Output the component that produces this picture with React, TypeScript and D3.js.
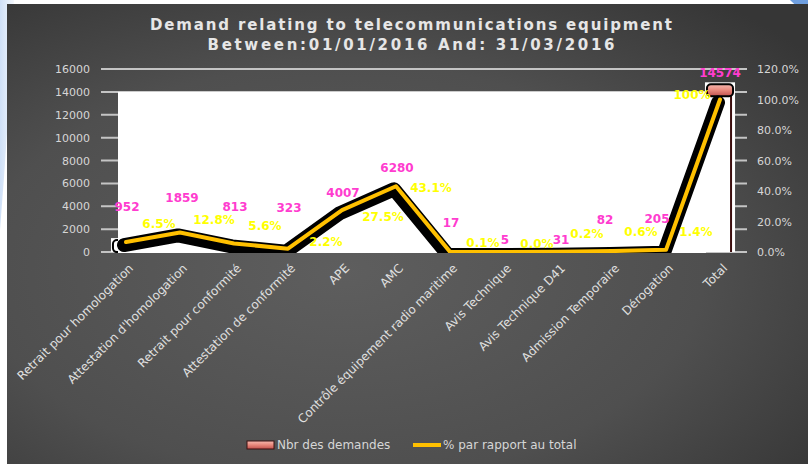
import * as d3 from "d3";

// données du graphique
const categories = [
  "Retrait pour homologation",
  "Attestation d'homologation",
  "Retrait pour conformité",
  "Attestation de conformité",
  "APE",
  "AMC",
  "Contrôle équipement radio maritime",
  "Avis Technique",
  "Avis Technique D41",
  "Admission Temporaire",
  "Dérogation",
  "Total",
];
const demandes = [952, 1859, 813, 323, 4007, 6280, 17, 5, 31, 82, 205, 14574];
const pourcentages = [6.5, 12.8, 5.6, 2.2, 27.5, 43.1, 0.1, 0.0, 0.2, 0.6, 1.4, 100];
const leftTicks = [0, 2000, 4000, 6000, 8000, 10000, 12000, 14000, 16000];
const rightTicks = [0, 20, 40, 60, 80, 100, 120];

// décalages des étiquettes (placées à la main dans l'original)
const countLabelShift = [[1, -34], [2, -33], [1, -36], [1, -40], [1, -13], [1, -12], [1, -29], [1, -12], [3, -12], [-7, -31], [-9, -31], [0, -12]];
const pctLabelShift = [[33, -18], [34, -12], [31, -17], [38, -7], [41, 7], [35, 2], [33, -9], [33, -8], [29, -18], [29, -19], [30, -18], [-28, -5]];

const W = 808;
const H = 464;
const font = "'DejaVu Sans', Verdana, sans-serif";

export default function App() {
  const x = d3.scaleBand<string>().domain(categories).range([99, 747]);
  const yL = d3.scaleLinear().domain([0, 16000]).range([252, 69]);
  const yR = d3.scaleLinear().domain([0, 120]).range([252, 69]);
  const cx = (c: string) => (x(c) ?? 0) + x.bandwidth() / 2;
  const barW = x.bandwidth() * 0.52;

  const line = d3
    .line<number>()
    .x((_, i) => cx(categories[i]))
    .y((d) => yR(d));

  const plotLeft = (x(categories[0]) ?? 0) + 19;
  const plotRight = cx("Total") - barW / 2;
  const plotTop = yL(14000);

  return (
    <svg width={W} height={H} style={{ position: "absolute", left: 0, top: 0 }}>
      <defs>
        <radialGradient id="bg" cx="42%" cy="58%" r="75%">
          <stop offset="0%" stopColor="#5e5e5e" />
          <stop offset="60%" stopColor="#4f4f4f" />
          <stop offset="100%" stopColor="#363636" />
        </radialGradient>
        <linearGradient id="cap" x1="0" y1="0" x2="0" y2="1">
          <stop offset="0%" stopColor="#f7b9b0" />
          <stop offset="50%" stopColor="#e8877b" />
          <stop offset="100%" stopColor="#c0504d" />
        </linearGradient>
        <linearGradient id="page" x1="0" y1="0" x2="1" y2="0">
          <stop offset="0%" stopColor="#cfe0f7" />
          <stop offset="100%" stopColor="#f4f8fd" />
        </linearGradient>
        <clipPath id="plotClip">
          <rect x={99} y={55} width={648} height={198} />
        </clipPath>
      </defs>

      <rect width={W} height={H} fill="#ffffff" />
      <path d="M0,0 L14,0 Q9,120 0,230 Z" fill="url(#page)" />
      <path d="M790,0 L808,0 L808,16 Q798,8 790,0 Z" fill="#6f9fe0" />
      <rect x={7} y={4} width={W - 7} height={H - 4} fill="url(#bg)" />

      {/* titre */}
      <text x={411} y={30} textAnchor="middle" fill="#e6e6e6" fontFamily={font} fontWeight="bold" fontSize={15} textLength={522} lengthAdjust="spacing">
        Demand relating to telecommunications equipment
      </text>
      <text x={411} y={50} textAnchor="middle" fill="#e6e6e6" fontFamily={font} fontWeight="bold" fontSize={15} textLength={407} lengthAdjust="spacing">
        Between:01/01/2016 And: 31/03/2016
      </text>

      {/* grille + axe gauche */}
      {leftTicks.map((t) => (
        <g key={"l" + t}>
          <line x1={101} x2={747} y1={yL(t)} y2={yL(t)} stroke="#c4c4c4" strokeWidth={2} />
          <text x={90} y={yL(t) + 4} textAnchor="end" fill="#d6d6d6" fontFamily={font} fontSize={11}>
            {t}
          </text>
        </g>
      ))}
      {rightTicks.map((t) => (
        <text key={"r" + t} x={757} y={yR(t) + 4} fill="#d6d6d6" fontFamily={font} fontSize={11}>
          {t.toFixed(1) + "%"}
        </text>
      ))}

      {/* barres */}
      <g clipPath="url(#plotClip)">
        {demandes.map((v, i) => {
          const c = cx(categories[i]);
          const top = yL(v);
          return (
            <g key={"b" + i}>
              <rect x={c - barW / 2 - 1} y={top - 3} width={barW + 2} height={252 - top + 3} fill="#ffffff" />
              <line x1={c + barW / 2 - 3} x2={c + barW / 2 - 3} y1={top + 8} y2={252} stroke="#3b0d0d" strokeWidth={2} />
              <rect x={c - barW / 2 + 1} y={top - 1} width={barW - 2} height={12} rx={4} fill={v > 10000 ? "url(#cap)" : "#ffffff"} stroke="#000" strokeWidth={2} />
            </g>
          );
        })}
      </g>

      {/* zone blanche */}
      <rect x={plotLeft} y={plotTop} width={plotRight - plotLeft} height={253 - plotTop} fill="#ffffff" />

      {/* ligne % avec ombre */}
      <g clipPath="url(#plotClip)">
        <path d={line(pourcentages) ?? ""} transform="translate(-2,3)" fill="none" stroke="#000" strokeWidth={14} strokeLinejoin="round" strokeLinecap="round" />
        <path d={line(pourcentages) ?? ""} fill="none" stroke="#ffc000" strokeWidth={4} strokeLinejoin="round" strokeLinecap="round" />
      </g>

      {/* étiquettes */}
      {demandes.map((v, i) => (
        <text key={"cl" + i} x={cx(categories[i]) + countLabelShift[i][0]} y={yL(v) + countLabelShift[i][1] + 4} textAnchor="middle" fill="#ff3ccf" fontFamily={font} fontWeight="bold" fontSize={12}>
          {v}
        </text>
      ))}
      {pourcentages.map((p, i) => (
        <text key={"pl" + i} x={cx(categories[i]) + pctLabelShift[i][0]} y={yR(p) + pctLabelShift[i][1] + 4} textAnchor="middle" fill="#ffff00" fontFamily={font} fontWeight="bold" fontSize={12}>
          {p === 100 ? "100%" : p.toFixed(1) + "%"}
        </text>
      ))}

      {/* axe x */}
      {categories.map((c) => (
        <text key={"x" + c} transform={`translate(${cx(c) + 8},269) rotate(-45)`} textAnchor="end" fill="#e0e0e0" fontFamily={font} fontSize={12}>
          {c}
        </text>
      ))}

      {/* légende */}
      <rect x={247} y={441} width={27} height={8} fill="url(#cap)" stroke="#3b1010" strokeWidth={1} />
      <text x={277} y={449} fill="#d6d6d6" fontFamily={font} fontSize={12}>
        Nbr des demandes
      </text>
      <line x1={413} x2={441} y1={445} y2={445} stroke="#ffc000" strokeWidth={4} />
      <text x={443} y={449} fill="#d6d6d6" fontFamily={font} fontSize={12}>
        % par rapport au total
      </text>
    </svg>
  );
}
